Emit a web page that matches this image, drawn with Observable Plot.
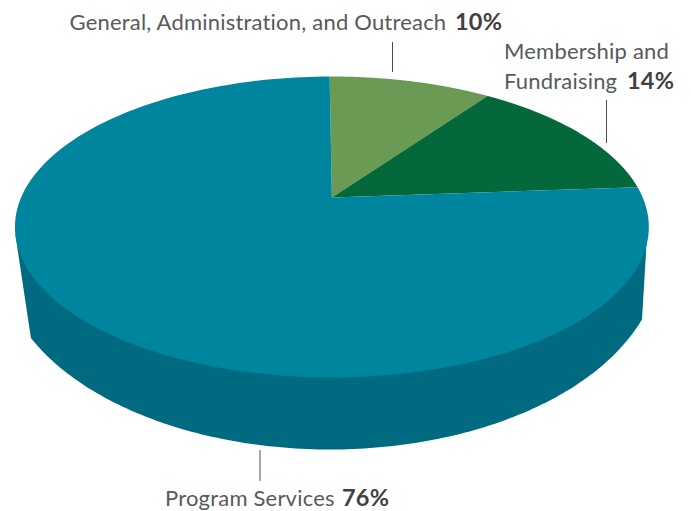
<!DOCTYPE html>
<html>
<head>
<meta charset="utf-8">
<script src="https://cdn.jsdelivr.net/npm/d3@7"></script>
<script src="https://cdn.jsdelivr.net/npm/@observablehq/plot@0.6"></script>
<style>
  html, body { margin: 0; padding: 0; background: #fff; }
  svg { display: block; }
</style>
</head>
<body>
<script>
// Spending shares, clockwise from the back of the disc.
const categories = ["General, Administration, and Outreach", "Membership and Fundraising", "Program Services"];
const shares = [10, 14, 76];
const sliceColors = ["#6a9a54", "#04683a", "#00859f"];
const wallColor = "#006a80";
const inkColor = "#58595b";
const boldColor = "#414042";

const width = 691;
const height = 511;

// Perspective view of the disc's top face: the hub sits above the ellipse centre.
const hub = {x: 331.4, y: 197};
const scaleX = 310.8, scaleY = 144.7, tilt = 0.196;
const startDeg = -0.5;

function onDisc(deg, r = 1) {
  const a = deg * Math.PI / 180;
  const across = r * Math.sin(a);
  const toward = -r * Math.cos(a);
  const w = 1 - tilt * toward;
  return {x: hub.x + scaleX * across / w, y: hub.y + scaleY * toward / w};
}

// Slices of the top face, built from the cumulative shares.
const ends = [0, ...d3.cumsum(shares)];
const faces = categories.flatMap((name, i) => {
  const from = startDeg + ends[i] * 3.6;
  const to = startDeg + ends[i + 1] * 3.6;
  const arc = d3.range(0, 1.0001, 1 / 180).map(f => onDisc(from + (to - from) * f));
  return [hub, ...arc, hub].map(p => ({...p, name}));
});

// Outer wall: two tangents from the rim down to the lower edge, which is a shallower arc.
const lower = {x: 329.5, y: 256, rx: 330, ry: 193};
const wallArc = d3.range(19, 155.5, 1).map(deg => ({
  x: lower.x + lower.rx * Math.cos(deg * Math.PI / 180),
  y: lower.y + lower.ry * Math.sin(deg * Math.PI / 180)
}));
const wall = [onDisc(97.5), ...wallArc, onDisc(256), onDisc(97.5)];

// Labels and leader lines.
const plainLabels = [
  {text: "General, Administration, and Outreach", x: 69, y: 29},
  {text: "Membership and", x: 503.5, y: 58},
  {text: "Fundraising", x: 503.5, y: 88},
  {text: "Program Services", x: 164.5, y: 505}
];
const boldLabels = [
  {text: "10%", x: 454.5, y: 29},
  {text: "14%", x: 626.5, y: 88},
  {text: "76%", x: 341.5, y: 505}
];
const leaders = [
  {x: 392, y1: 42, y2: 72},
  {x: 606, y1: 100, y2: 143},
  {x: 259.5, y1: 450, y2: 481}
];

const chart = Plot.plot({
  width,
  height,
  margin: 0,
  style: {background: "#fff", letterSpacing: "0.2px"},
  x: {domain: [0, width], range: [0, width], axis: null},
  y: {domain: [0, height], range: [0, height], axis: null},
  color: {domain: categories, range: sliceColors},
  marks: [
    Plot.line(wall, {x: "x", y: "y", fill: wallColor, stroke: "none"}),
    Plot.line(faces, {x: "x", y: "y", z: "name", fill: "name", stroke: "none"}),
    Plot.ruleX(leaders, {x: "x", y1: "y1", y2: "y2", stroke: "#4d4d4f", strokeWidth: 1}),
    Plot.text(plainLabels, {
      x: "x", y: "y", text: "text", textAnchor: "start", lineAnchor: "bottom",
      fontFamily: "Lato", fontSize: 22, fill: inkColor
    }),
    Plot.text(boldLabels, {
      x: "x", y: "y", text: "text", textAnchor: "start", lineAnchor: "bottom",
      fontFamily: "Lato", fontSize: 23.5, fontWeight: 700, fill: boldColor
    })
  ]
});
document.body.append(chart);
</script>
</body>
</html>
